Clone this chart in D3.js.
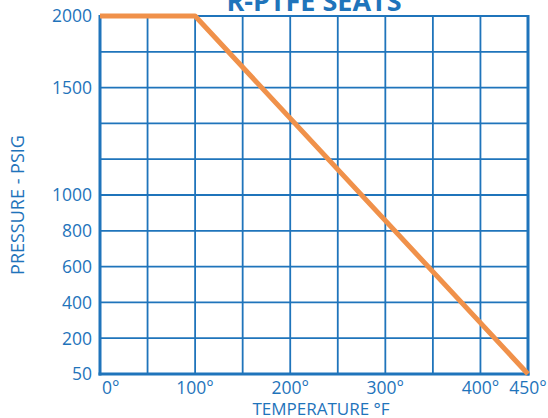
<!DOCTYPE html>
<html>
<head>
<meta charset="utf-8">
<script src="https://cdn.jsdelivr.net/npm/d3@7"></script>
<style>
  html, body { margin: 0; padding: 0; background: #fff; }
  svg { display: block; }
  text { font-family: "Open Sans", sans-serif; fill: #1f74bb; }
</style>
</head>
<body>
<svg id="chart" width="548" height="418"></svg>
<script>
// ---- data ----
const title = "R-PTFE SEATS";
const xLabel = "TEMPERATURE \u00B0F";
const yLabel = "PRESSURE - PSIG";
const tempF = [0, 100, 450];
const pressure = [2000, 2000, 50];
const xTicks = [0, 100, 200, 300, 400, 450];
const xGrid = [0, 50, 100, 150, 200, 250, 300, 350, 400, 450];
const yTicks = [50, 200, 400, 600, 800, 1000, 1500, 2000];
const yTickRows = [0, 1, 2, 3, 4, 5, 8, 10];   // grid row at which each label sits
const yGridRows = [0, 1, 2, 3, 4, 5, 6, 7, 8, 9, 10];

// ---- layout ----
const mL = 100, mR = 528, mT = 16, mB = 374;
const blue = "#1f74bb", orange = "#f0914a";

const svg = d3.select("#chart");
const x = d3.scaleLinear().domain([0, 450]).range([mL, mR]);
const row = d3.scaleLinear().domain([0, 10]).range([mB, mT]);
const y = d3.scaleLinear().domain(yTicks).range(yTickRows.map(r => row(r)));

// grid
svg.append("g").selectAll("line").data(xGrid).join("line")
  .attr("x1", d => x(d)).attr("x2", d => x(d))
  .attr("y1", mT).attr("y2", mB)
  .attr("stroke", blue).attr("stroke-width", 1.8);
svg.append("g").selectAll("line").data(yGridRows).join("line")
  .attr("x1", mL).attr("x2", mR)
  .attr("y1", d => row(d)).attr("y2", d => row(d))
  .attr("stroke", blue).attr("stroke-width", 1.8);

// frame (thicker left, bottom, right)
svg.append("line").attr("x1", mL).attr("x2", mL).attr("y1", mT - 1).attr("y2", mB + 1.5)
  .attr("stroke", blue).attr("stroke-width", 3);
svg.append("line").attr("x1", mL - 1.5).attr("x2", mR + 1.5).attr("y1", mB).attr("y2", mB)
  .attr("stroke", blue).attr("stroke-width", 3);
svg.append("line").attr("x1", mR).attr("x2", mR).attr("y1", mT - 1).attr("y2", mB + 1.5)
  .attr("stroke", blue).attr("stroke-width", 3);

// data line
const pts = tempF.map((t, i) => [t, pressure[i]]);
svg.append("path")
  .datum(pts)
  .attr("fill", "none")
  .attr("stroke", orange)
  .attr("stroke-width", 5)
  .attr("stroke-linejoin", "round")
  .attr("d", d3.line().x(d => x(d[0])).y(d => y(d[1])));

// y tick labels
svg.append("g").selectAll("text").data(yTicks).join("text")
  .attr("x", mL - 8).attr("y", d => y(d))
  .attr("dy", "0.36em")
  .attr("text-anchor", "end")
  .attr("font-size", 17.5)
  .text(d => d);

// x tick labels
svg.append("g").selectAll("text").data(xTicks).join("text")
  .attr("x", d => d === 0 ? x(d) + 2 : x(d))
  .attr("y", 394)
  .attr("text-anchor", d => d === 0 ? "start" : "middle")
  .attr("font-size", 17.5)
  .text(d => d + "\u00B0");

// axis titles
svg.append("text")
  .attr("x", 321).attr("y", 415)
  .attr("text-anchor", "middle")
  .attr("font-size", 17)
  .text(xLabel);
svg.append("text")
  .attr("transform", `translate(24, ${(mT + mB) / 2 + 10}) rotate(-90)`)
  .attr("text-anchor", "middle")
  .attr("font-size", 18)
  .text(yLabel);

// title (cut off at top, as in reference)
svg.append("text")
  .attr("x", (mL + mR) / 2).attr("y", 11)
  .attr("text-anchor", "middle")
  .attr("font-size", 27)
  .attr("font-weight", "bold")
  .text(title);
</script>
</body>
</html>
